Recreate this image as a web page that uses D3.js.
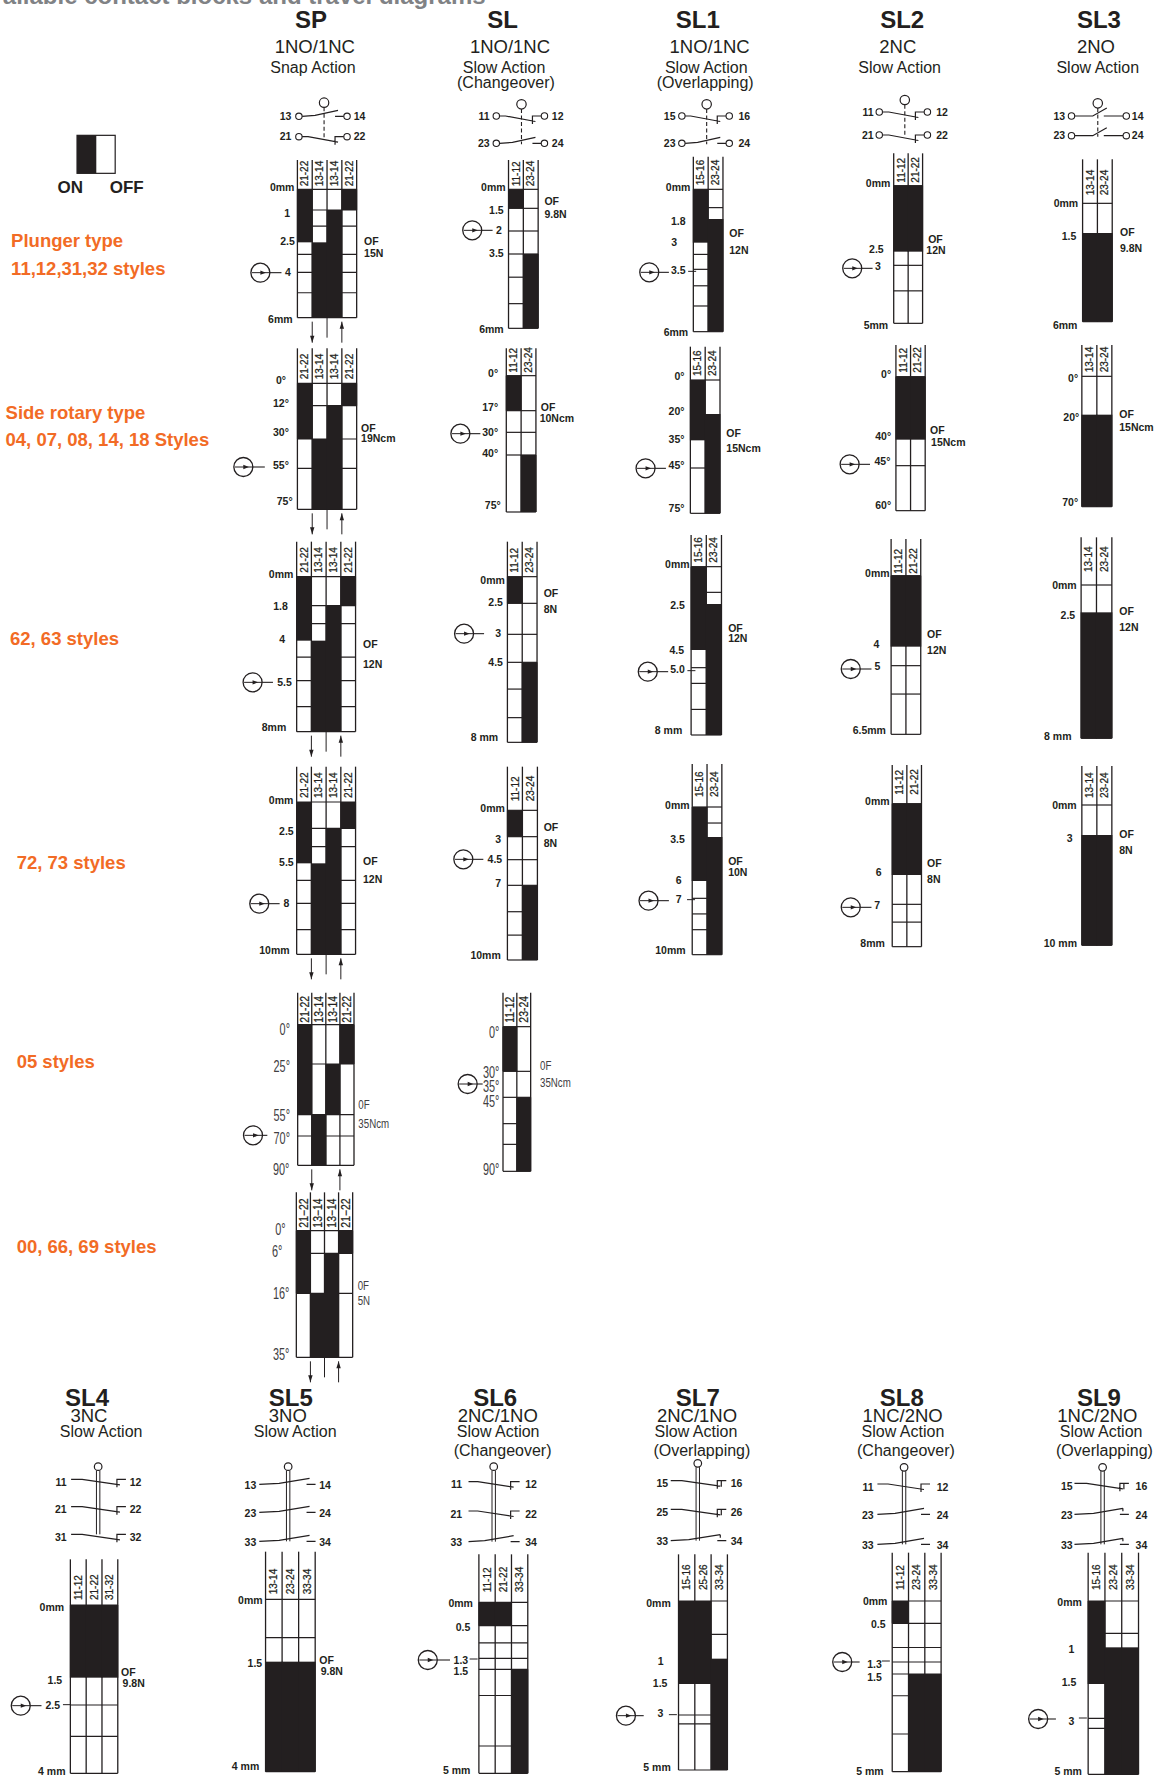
<!DOCTYPE html>
<html>
<head>
<meta charset="utf-8">
<script src="https://d3js.org/d3.v7.min.js"></script>
<style>
  html, body { margin: 0; padding: 0; background: #fff; overflow: hidden; }
  svg { display: block; }
  text { font-family: "Liberation Sans", Arial, sans-serif; fill: #231f20; }
</style>
</head>
<body>
<script>
// ---- data: one entry per travel diagram, same order in every list ----
var diagramIds = ["SP plunger","SL plunger","SL1 plunger","SL2 plunger","SL3 plunger",
  "SP rotary","SL rotary","SL1 rotary","SL2 rotary","SL3 rotary",
  "SP 62","SL 62","SL1 62","SL2 62","SL3 62",
  "SP 72","SL 72","SL1 72","SL2 72","SL3 72",
  "SP 05","SL 05","SP 00",
  "SL4","SL5","SL6","SL7","SL8","SL9"];

var sp = ["21-22","13-14","13-14","21-22"], sl = ["11-12","23-24"], sl1 = ["15-16","23-24"],
    sl2 = ["11-12","21-22"], sl3 = ["13-14","23-24"];

var columnNames = [sp,sl,sl1,sl2,sl3, sp,sl,sl1,sl2,sl3, sp,sl,sl1,sl2,sl3, sp,sl,sl1,sl2,sl3,
  sp,sl,["21\u221222","13\u221214","13\u221214","21\u221222"],
  ["11-12","21-22","31-32"],["13-14","23-24","33-34"],["11-12","21-22","33-34"],
  ["15-16","25-26","33-34"],["11-12","23-24","33-34"],["15-16","23-24","33-34"]];

var travelTicks = [
  [0,1,2.5,4,6],[0,1.5,2,3.5,6],[0,1.8,3,3.5,6],[0,2.5,3,5],[0,1.5,6],
  [0,12,30,55,75],[0,17,30,40,75],[0,20,35,45,75],[0,40,45,60],[0,20,70],
  [0,1.8,4,5.5,8],[0,2.5,3,4.5,8],[0,2.5,4.5,5,8],[0,4,5,6.5],[0,2.5,8],
  [0,2.5,5.5,8,10],[0,3,4.5,7,10],[0,3.5,6,7,10],[0,6,7,8],[0,3,10],
  [0,25,55,70,90],[0,30,35,45,90],[0,6,16,35],
  [0,1.5,2.5,4],[0,1.5,4],[0,0.5,1.3,1.5,5],[0,1,1.5,3,5],[0,0.5,1.3,1.5,5],[0,1,1.5,3,5]];

var travelLabels = [
  ["0mm","1","2.5","4","6mm"],["0mm","1.5","2","3.5","6mm"],["0mm","1.8","3","3.5","6mm"],["0mm","2.5","3","5mm"],["0mm","1.5","6mm"],
  ["0\u00b0","12\u00b0","30\u00b0","55\u00b0","75\u00b0"],["0\u00b0","17\u00b0","30\u00b0","40\u00b0","75\u00b0"],["0\u00b0","20\u00b0","35\u00b0","45\u00b0","75\u00b0"],["0\u00b0","40\u00b0","45\u00b0","60\u00b0"],["0\u00b0","20\u00b0","70\u00b0"],
  ["0mm","1.8","4","5.5","8mm"],["0mm","2.5","3","4.5","8 mm"],["0mm","2.5","4.5","5.0","8 mm"],["0mm","4","5","6.5mm"],["0mm","2.5","8 mm"],
  ["0mm","2.5","5.5","8","10mm"],["0mm","3","4.5","7","10mm"],["0mm","3.5","6","7","10mm"],["0mm","6","7","8mm"],["0mm","3","10 mm"],
  ["0\u00b0","25\u00b0","55\u00b0","70\u00b0","90\u00b0"],["0\u00b0","30\u00b0","35\u00b0","45\u00b0","90\u00b0"],["0\u00b0","6\u00b0","16\u00b0","35\u00b0"],
  ["0mm","1.5","2.5","4 mm"],["0mm","1.5","4 mm"],["0mm","0.5","1.3","1.5","5 mm"],["0mm","1","1.5","3","5 mm"],["0mm","0.5","1.3","1.5","5 mm"],["0mm","1","1.5","3","5 mm"]];

// closed spans: [column, from, to] in travel units
var onBars = [
  [[0,0,2.5],[1,2.5,6],[2,1,6],[3,0,1]],[[0,0,1.5],[1,3.5,6]],[[0,0,3],[1,1.8,6]],[[0,0,2.5],[1,0,2.5]],[[0,1.5,6],[1,1.5,6]],
  [[0,0,30],[1,30,75],[2,12,75],[3,0,12]],[[0,0,17],[1,40,75]],[[0,0,35],[1,20,75]],[[0,0,40],[1,0,40]],[[0,20,70],[1,20,70]],
  [[0,0,4],[1,4,8],[2,1.8,8],[3,0,1.8]],[[0,0,2.5],[1,4.5,8]],[[0,0,4.5],[1,2.5,8]],[[0,0,4],[1,0,4]],[[0,2.5,8],[1,2.5,8]],
  [[0,0,5.5],[1,5.5,10],[2,2.5,10],[3,0,2.5]],[[0,0,3],[1,7,10]],[[0,0,6],[1,3.5,10]],[[0,0,6],[1,0,6]],[[0,3,10],[1,3,10]],
  [[0,0,55],[1,55,90],[2,25,55],[3,0,25]],[[0,0,30],[1,45,90]],[[0,0,16],[1,16,35],[2,6,35],[3,0,6]],
  [[0,0,1.5],[1,0,1.5],[2,0,1.5]],[[0,1.5,4],[1,1.5,4],[2,1.5,4]],[[0,0,0.5],[1,0,0.5],[2,1.5,5]],
  [[0,0,1.5],[1,0,1.5],[2,1,5]],[[0,0,0.5],[1,1.5,5],[2,1.5,5]],[[0,0,1.5],[1,1,5],[2,1,5]]];

// travel values of the inner horizontal rules
var gridRules = [
  [1,1.75,3.1,4,4.9],[1.5,2,3.5,4.28,5.17],[1.11,3.22,3.5,4.16,4.97],[3,3.88],[],
  [12,30,55],[17,30,40],[45],[45],[],
  [1.8,2.93,4.62,5.5,6.77],[2.5,3,4.5,5.67,6.92],[1.72,5,5.7,6.86],[5,5.62],[],
  [2.5,4.07,6.56,8,9.03],[3,4.5,7,8.06,9],[1.87,7,7.83,8.67],[7,7.42],[],
  [25,55,70],[30,45,61,73.6],[6,16],
  [2.5,3.19],[0.92],[0.5,0.92,1.3,1.5,2.38,4.08],[0.58,3,3.32],[0.5,1,1.3,1.5,2.28,3.65],[0.7,3,3.36]];

var forceLabels = [
  ["OF","15N"],["OF","9.8N"],["OF","12N"],["OF","12N"],["OF","9.8N"],
  ["OF","19Ncm"],["OF","10Ncm"],["OF","15Ncm"],["OF","15Ncm"],["OF","15Ncm"],
  ["OF","12N"],["OF","8N"],["OF","12N"],["OF","12N"],["OF","12N"],
  ["OF","12N"],["OF","8N"],["OF","10N"],["OF","8N"],["OF","8N"],
  ["0F","35Ncm"],["0F","35Ncm"],["0F","5N"],
  ["OF","9.8N"],["OF","9.8N"],[],[],[],[]];

var headerNames = ["SP","SL","SL1","SL2","SL3","SL4","SL5","SL6","SL7","SL8","SL9"];
var headerContacts = ["1NO/1NC","1NO/1NC","1NO/1NC","2NC","2NO","3NC","3NO","2NC/1NO","2NC/1NO","1NC/2NO","1NC/2NO"];
var headerActions = ["Snap Action","Slow Action","Slow Action","Slow Action","Slow Action","Slow Action","Slow Action","Slow Action","Slow Action","Slow Action","Slow Action"];
var headerNotes = ["","(Changeover)","(Overlapping)","","","","","(Changeover)","(Overlapping)","(Changeover)","(Overlapping)"];

// contact symbols, one row per pole: [kind, left terminal, right terminal]
var contactRows = [
  [["NO",13,14],["NC",21,22]],[["NC",11,12],["NO",23,24]],[["NC",15,16],["NO",23,24]],[["NC",11,12],["NC",21,22]],[["NOs",13,14],["NOs",23,24]],
  [["NC",11,12],["NC",21,22],["NC",31,32]],[["NO",13,14],["NO",23,24],["NO",33,34]],[["NC",11,12],["NC",21,22],["NO",33,34]],
  [["NCo",15,16],["NCo",25,26],["NOo",33,34]],[["NC",11,12],["NO",23,24],["NO",33,34]],[["NCo",15,16],["NOo",23,24],["NOo",33,34]]];

var styleLabels = ["Plunger type","11,12,31,32 styles","Side rotary type","04, 07, 08, 14, 18 Styles","62, 63 styles","72, 73 styles","05 styles","00, 66, 69 styles"];
var legendLabels = ["ON","OFF"];
var pageTitle = "Available contact blocks and travel diagrams";

var crops = {A:[0,0,2.7],B:[580,0,2.7],C:[0,340,2.7],D:[580,340,2.7],E:[0,700,2.7],F:[580,700,2.7],G:[200,980,3],H:[0,1370,2.7],I:[580,1370,2.7]};
function X(c, v) { return crops[c][0] + v / crops[c][2]; }
function Y(c, v) { return crops[c][1] + v / 3; }

// crop, left, right, top of header lines, gap between column label and 0 line
var boxes = [
  ["A",803,963,480,3],["A",1373,1453,480,3],["B",306,386,470,4],["B",847,925,460,3],["B",1357,1437,478,8],
  ["C",803,963,25,4],["C",1367,1447,25,3],["D",298,378,20,4],["D",853,932,15,4],["D",1355,1436,15,4],
  ["C",801,960,605,4],["C",1370,1450,605,4],["D",300,382,585,4],["D",840,920,597,2],["D",1353,1436,592,13],
  ["E",801,960,200,4],["E",1370,1451,200,9],["F",303,383,192,10],["F",843,922,195,9],["F",1355,1436,198,7],
  ["G",293,462,38,2],["G",909,992,38,4],["G",289,458,637,3],
  ["H",190,318,568,5],["H",717,851,545,5],["H",1293,1425,553,10],["I",266,398,553,11],["I",843,975,548,11],["I",1372,1508,548,11]];

var tickY = [
  [568,630,727,817,953],[568,625,693,762,985],[568,657,728,808,995],[557,755,796,970],[610,699,965],
  [130,197,297,385,508],[107,212,277,345,516],[120,222,301,384,520],[110,299,377,512],[109,224,500],
  [710,797,902,1022,1175],[710,790,883,967,1207],[680,792,930,983,1185],[707,920,977,1183],[735,817,1195],
  [306,385,490,610,763],[331,410,479,556,780],[321,411,543,595,764],[311,525,613,740],[315,405,736],
  [134,252,404,468,556],[140,274,312,352,574],[752,820,940,1132],
  [705,923,1005,1210],[688,875,1205],[697,767,865,898,1210],[693,866,942,1035,1200],[693,760,876,912,1205],[693,832,942,1045,1213]];

var labelX = [
  [795,783,796,785,790],[1365,1360,1355,1360,1360],[298,285,262,285,292],[838,820,812,832],[1345,1340,1343],
  [772,780,780,780,790],[1345,1345,1345,1345,1352],[282,282,282,282,282],[840,840,838,840],[1345,1348,1345],
  [792,777,770,788,773],[1363,1358,1353,1358,1345],[296,283,281,283,276],[836,808,811,826],[1341,1337,1327],
  [792,793,793,781,782],[1363,1353,1356,1353,1352],[296,283,274,274,285],[836,814,810,823],[1341,1330,1342],
  [270,270,270,270,268],[898,898,898,898,898],[257,247,268,268],
  [173,168,162,177],[709,708,700],[1277,1270,1264,1264,1270],[245,226,236,225,245],[830,825,815,815,820],[1355,1335,1340,1335,1355]];

var labelY = [
  [563,640,723,817,958],[563,631,691,760,988],[563,664,727,810,997],[550,748,799,977],[610,709,975],
  [120,190,278,377,485],[100,203,278,340,497],[108,215,297,375,505],[103,290,365,495],[115,232,487],
  [703,799,898,1027,1162],[720,787,880,967,1192],[674,797,932,989,1172],[700,913,980,1172],[737,826,1188],
  [301,394,487,611,751],[325,417,479,550,767],[316,418,541,598,751],[304,516,617,731],[316,414,730],
  [148,258,407,475,567],[158,278,320,365,567],[748,815,940,1122],
  [712,931,1005,1203],[690,880,1188],[700,772,870,903,1200],[700,874,940,1030,1192],[693,763,883,921,1205],[697,838,937,1053,1205]];

// pin symbol: circle x, circle y, end of its leader, start of stub to the grid (null = none)
var pinMarks = [
  [703,818,760,null],[1275,691,1330,null],[187,817,240,292],[735,805,790,null],null,
  [657,381,715,null],[1243,281,1297,null],[177,385,232,null],[728,373,783,null],null,
  [682,1027,737,null],[1253,881,1307,null],[183,995,238,290],[731,987,787,null],null,
  [700,611,755,null],[1251,478,1305,null],[185,602,240,289],[731,622,787,null],null,
  [159,466,202,null],[803,312,848,null],null,
  [56,1007,112,170],null,[1155,870,1215,1268],[124,1037,172,240],[708,876,755,815],[1237,1047,1285,1347]];

// x of force labels, y of each line
var forceXY = [
  [[983,723],[983,760]],[[1470,603],[1470,643]],[[403,700],[403,750]],[[940,717],[935,750]],[[1458,696],[1458,745]],
  [[975,265],[975,296]],[[1460,202],[1457,235]],[[395,280],[395,325]],[[945,270],[948,307]],[[1456,222],[1456,262]],
  [[980,912],[980,972]],[[1468,760],[1468,808]],[[400,865],[400,895]],[[937,882],[937,930]],[[1456,815],[1456,862]],
  [[980,484],[980,538]],[[1468,381],[1468,430]],[[400,484],[400,516]],[[937,490],[937,538]],[[1456,403],[1456,452]],
  [[475,373],[475,428]],[[1020,255],[1020,305]],[[473,915],[473,960]],
  [[327,906],[331,940]],[[862,872],[866,903]],[],[],[],[]];

var withArrows = [0,5,10,15,20,22];
var narrowIds = [20,21,22];

// crop, title x,y, contact x,y, action x,y, note x,y
var headerPos = [
  ["A",840,58,850,140,845,203,0,0],["A",1357,58,1377,140,1361,203,1366,248],["B",318,58,350,140,341,203,338,248],
  ["B",870,58,858,140,863,203,0,0],["B",1401,58,1393,140,1398,203,0,0],
  ["H",235,83,240,137,273,185,0,0],["H",785,83,777,137,797,185,0,0],["H",1337,83,1344,137,1345,185,1357,240],
  ["I",318,83,316,137,313,185,329,240],["I",869,83,871,137,872,185,880,240],["I",1401,83,1397,137,1407,185,1416,240]];

// crop, link x, actuator y, left end, right end, left label end, right label start, row ys
var symbolPos = [
  ["A",875,308,807,937,787,955,[349,410]],["A",1408,313,1340,1470,1322,1490,[348,430]],["B",342,313,275,403,258,428,[348,430]],
  ["B",877,300,808,938,793,962,[336,405]],["B",1398,310,1327,1475,1310,1490,[348,407]],
  ["H",265,290,192,340,180,350,[328,410,493]],["H",778,290,700,852,692,862,[343,427,514]],["H",1333,290,1265,1403,1248,1418,[335,423,515]],
  ["I",318,280,245,395,238,407,[332,418,512]],["I",875,292,803,945,793,963,[342,433,523]],["I",1411,292,1335,1482,1330,1500,[340,433,523]]];

var stylePos = [["A",30,722],["A",30,806],["C",15,216],["C",15,298],["C",27,896],["E",45,486],["E",45,1085],["E",45,1640]];

var ink = "#231f20", orange = "#f26b25";

var svg = d3.select("body").append("svg").attr("width", 1161).attr("height", 1776);

// the page heading is cut by the top edge in the reference
svg.append("text").attr("x", -27).attr("y", 3.5)
  .style("font-size", "24px").style("font-weight", "bold").style("fill", "#808285")
  .text(pageTitle);

// condensed text: no narrow face is installed, so squeeze the normal one
function squeezed(x, y, sx) {
  return "translate(" + x + "," + y + ") scale(" + sx + ",1)";
}

// one travel diagram
diagramIds.forEach(function (id, i) {
  var box = boxes[i], c = box[0];
  var narrow = narrowIds.indexOf(i) >= 0;
  var g = svg.append("g").attr("class", "diagram").attr("data-id", id);

  var x = d3.scaleBand().domain(d3.range(columnNames[i].length)).range([X(c, box[1]), X(c, box[2])]);
  var y = d3.scaleLinear().domain(travelTicks[i]).range(tickY[i].map(function (v) { return Y(c, v); }));
  var y0 = y.range()[0], y1 = y.range()[travelTicks[i].length - 1];
  var x0 = x.range()[0], x1 = x.range()[1];
  var top = Y(c, box[3]);

  // header lines and outer frame
  g.selectAll(".col").data(d3.range(columnNames[i].length + 1)).enter().append("line")
    .attr("x1", function (d) { return x0 + d * x.bandwidth(); })
    .attr("x2", function (d) { return x0 + d * x.bandwidth(); })
    .attr("y1", top).attr("y2", y1)
    .attr("stroke", ink).attr("stroke-width", 1.3);

  // inner rules, plus the 0 line and the end line
  g.selectAll(".rule").data([0].concat(gridRules[i]).concat([travelTicks[i][travelTicks[i].length - 1]])).enter().append("line")
    .attr("x1", x0).attr("x2", x1)
    .attr("y1", function (d) { return y(d); }).attr("y2", function (d) { return y(d); })
    .attr("stroke", ink).attr("stroke-width", 1.2);

  // closed spans
  g.selectAll(".on").data(onBars[i]).enter().append("rect")
    .attr("x", function (d) { return x(d[0]) - 0.5; })
    .attr("width", x.bandwidth() + 1)
    .attr("y", function (d) { return y(d[1]); })
    .attr("height", function (d) { return y(d[2]) - y(d[1]); })
    .attr("fill", ink);

  // column names
  g.selectAll(".name").data(columnNames[i]).enter().append("text")
    .attr("transform", function (d, k) {
      return "translate(" + (x(k) + x.bandwidth() / 2) + "," + (y0 - box[4]) + ") rotate(-90)" + (narrow ? " scale(.87,1)" : "");
    })
    .attr("dy", "0.36em")
    .style("font-size", narrow ? "12px" : "10px")
    .style("stroke", ink).style("stroke-width", 0.25)
    .text(function (d) { return d; });

  // travel labels
  g.selectAll(".tick").data(travelLabels[i]).enter().append("text")
    .attr("transform", function (d, k) {
      return squeezed(X(c, labelX[i][k]), Y(c, labelY[i][k]), narrow ? 0.68 : 1);
    })
    .attr("dy", "0.36em").attr("text-anchor", "end")
    .style("font-weight", narrow ? "normal" : "bold")
    .style("font-size", narrow ? "16px" : "10.5px")
    .style("fill", narrow ? "#414042" : ink)
    .text(function (d) { return d; });

  // force
  g.selectAll(".force").data(forceLabels[i]).enter().append("text")
    .attr("transform", function (d, k) {
      return squeezed(X(c, forceXY[i][k][0]), Y(c, forceXY[i][k][1]), narrow ? 0.72 : 1);
    })
    .attr("dy", "0.36em")
    .style("font-weight", narrow ? "normal" : "bold")
    .style("font-size", narrow ? "13.5px" : "10.5px")
    .style("fill", narrow ? "#414042" : ink)
    .text(function (d) { return d; });

  if (pinMarks[i]) drawPin(g, c, pinMarks[i]);

  if (withArrows.indexOf(i) >= 0) {
    var b = x.bandwidth();
    drawArrow(g, x0 + b, y1 + 4, y1 + 25, 1);
    drawArrow(g, x0 + 3 * b, y1 + 25, y1 + 4, -1);
    if (i != 20) {
      g.append("line").attr("x1", x0 + 2 * b).attr("x2", x0 + 2 * b)
        .attr("y1", y1).attr("y2", y1 + 20).attr("stroke", ink).attr("stroke-width", 1);
    }
  }
});

function drawPin(g, c, p) {
  var cx = X(c, p[0]), cy = Y(c, p[1]), r = 9.5;
  g.append("circle").attr("cx", cx).attr("cy", cy).attr("r", r)
    .attr("fill", "#fff").attr("stroke", ink).attr("stroke-width", 1.3);
  g.append("line").attr("x1", cx - r + 1).attr("x2", cx + r).attr("y1", cy).attr("y2", cy)
    .attr("stroke", ink).attr("stroke-width", 1);
  g.append("path").attr("d", "M" + cx + "," + (cy - 2.2) + "L" + (cx + 5.5) + "," + cy + "L" + cx + "," + (cy + 2.2) + "Z")
    .attr("fill", ink);
  g.append("line").attr("x1", cx + r).attr("x2", X(c, p[2])).attr("y1", cy).attr("y2", cy)
    .attr("stroke", ink).attr("stroke-width", 1.1);
  if (p[3] !== null) {
    g.append("line").attr("x1", X(c, p[3])).attr("x2", X(c, p[3]) + 8).attr("y1", cy - 1).attr("y2", cy - 1)
      .attr("stroke", ink).attr("stroke-width", 1);
  }
}

function drawArrow(g, x, ya, yb, dir) {
  g.append("line").attr("x1", x).attr("x2", x).attr("y1", ya).attr("y2", yb)
    .attr("stroke", ink).attr("stroke-width", 1);
  g.append("path").attr("d", "M" + (x - 2.2) + "," + (yb - dir * 7) + "L" + x + "," + yb + "L" + (x + 2.2) + "," + (yb - dir * 7) + "Z")
    .attr("fill", ink);
}

// column headers
headerNames.forEach(function (name, i) {
  var p = headerPos[i], c = p[0];
  var lines = [[name, p[1], p[2], 24, "bold"], [headerContacts[i], p[3], p[4], 18.5, "normal"],
               [headerActions[i], p[5], p[6], 16, "normal"], [headerNotes[i], p[7], p[8], 16, "normal"]];
  svg.append("g").selectAll("text").data(lines).enter().append("text")
    .attr("x", function (d) { return X(c, d[1]); })
    .attr("y", function (d) { return Y(c, d[2]); })
    .attr("dy", "0.36em").attr("text-anchor", "middle")
    .style("font-size", function (d) { return d[3] + "px"; })
    .style("font-weight", function (d) { return d[4]; })
    .text(function (d) { return d[0]; });
});

// contact symbols
contactRows.forEach(function (rows, i) {
  var p = symbolPos[i], c = p[0], ys = p[7], g = svg.append("g");
  var top = i < 5;
  var cx = X(c, p[1]), ay = Y(c, p[2]), r = top ? 3.2 : 0, off = top ? 12 : 9;
  var tl = X(c, p[3]), tr = X(c, p[4]);
  var lastY = Y(c, ys[ys.length - 1]);
  var ar = top ? 4.7 : 3.8;
  if (top) {
    g.append("line").attr("x1", cx).attr("x2", cx).attr("y1", ay + ar).attr("y2", lastY + 1)
      .attr("stroke", ink).attr("stroke-width", 1.1).attr("stroke-dasharray", "4,2.5");
  } else {
    [-1.7, 1.7].forEach(function (d) {
      g.append("line").attr("x1", cx + d).attr("x2", cx + d).attr("y1", ay + ar).attr("y2", lastY)
        .attr("stroke", ink).attr("stroke-width", 1);
    });
  }
  g.append("circle").attr("cx", cx).attr("cy", ay).attr("r", ar)
    .attr("fill", "#fff").attr("stroke", ink).attr("stroke-width", 1.2);

  rows.forEach(function (row, k) {
    var yy = Y(c, ys[k]), kind = row[0], stop = tr - off;
    var nc = kind.charAt(1) == "C";
    var d;
    if (kind == "NOs") {
      d = "M" + (tl + r) + "," + yy + "L" + (cx - 5) + "," + yy + "L" + (cx + 9) + "," + (yy - 8) +
          "M" + (tr - r) + "," + yy + "H" + (cx + 6);
    } else if (nc) {
      d = "M" + (tl + r) + "," + yy + "L" + (cx - 16) + "," + yy + "L" + (stop + 3) + "," + (yy + 5.5) +
          "M" + (tr - r) + "," + yy + "H" + stop + "V" + (yy + 8);
    } else {
      d = "M" + (tl + r) + "," + yy + "L" + (cx - 9) + "," + (yy - 1) + "L" + (stop + 3) + "," + (yy - 6) +
          "M" + (tr - r) + "," + yy + "H" + stop;
    }
    if (kind == "NCo") d += "M" + (stop + 4) + "," + yy + "V" + (yy + 6);
    if (kind == "NOo") d += "M" + (stop + 3) + "," + (yy - 6) + "v3";
    g.append("path").attr("d", d).attr("fill", "none").attr("stroke", ink).attr("stroke-width", 1.2);
    if (top) {
      [tl, tr].forEach(function (t) {
        g.append("circle").attr("cx", t).attr("cy", yy).attr("r", r)
          .attr("fill", "#fff").attr("stroke", ink).attr("stroke-width", 1.1);
      });
    }
    var ly = yy + (top ? 0 : (nc ? 3 : 1));
    g.append("text").attr("x", X(c, p[5])).attr("y", ly).attr("dy", "0.36em").attr("text-anchor", "end")
      .style("font-size", "10.5px").style("font-weight", "bold").text(row[1]);
    g.append("text").attr("x", X(c, p[6])).attr("y", ly).attr("dy", "0.36em")
      .style("font-size", "10.5px").style("font-weight", "bold").text(row[2]);
  });
});

// style names on the left
svg.append("g").selectAll("text").data(styleLabels).enter().append("text")
  .attr("x", function (d, i) { return X(stylePos[i][0], stylePos[i][1]); })
  .attr("y", function (d, i) { return Y(stylePos[i][0], stylePos[i][2]); })
  .attr("dy", "0.36em")
  .style("font-size", "18.5px").style("font-weight", "bold").style("fill", orange)
  .text(function (d) { return d; });

// ON / OFF legend
var legend = svg.append("g");
legend.append("rect").attr("x", X("A", 208)).attr("y", Y("A", 406)).attr("width", 103 / 2.7).attr("height", 114 / 3)
  .attr("fill", "#fff").attr("stroke", ink).attr("stroke-width", 1.2);
legend.append("rect").attr("x", X("A", 208)).attr("y", Y("A", 406)).attr("width", 52 / 2.7).attr("height", 114 / 3)
  .attr("fill", ink);
legend.selectAll("text").data(legendLabels).enter().append("text")
  .attr("x", function (d, i) { return X("A", i ? 342 : 190); })
  .attr("y", Y("A", 560)).attr("dy", "0.36em").attr("text-anchor", "middle")
  .style("font-size", "17px").style("font-weight", "bold")
  .text(function (d) { return d; });
</script>
</body>
</html>
